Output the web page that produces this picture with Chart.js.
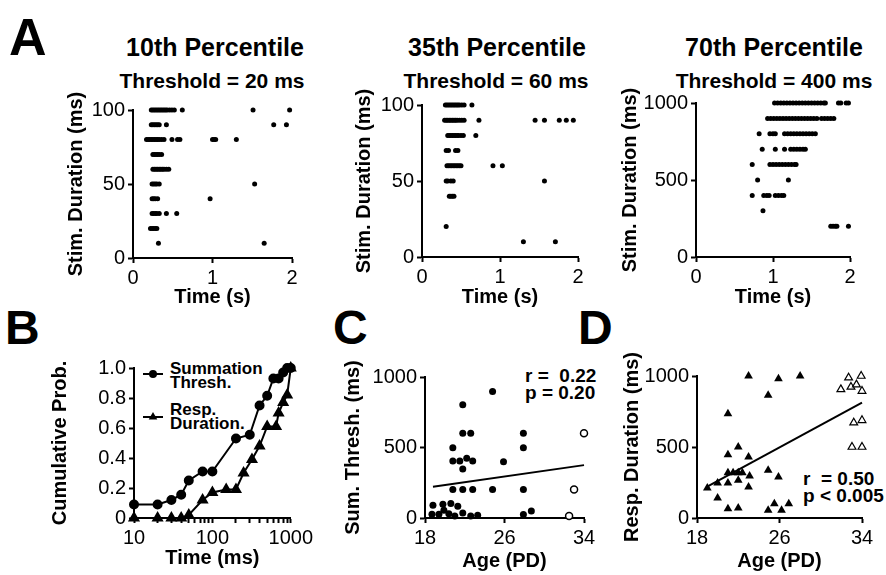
<!DOCTYPE html>
<html lang="en">
<head>
<meta charset="UTF-8">
<title>Summation threshold</title>
<script src="https://cdn.jsdelivr.net/npm/chart.js"></script>
<style>
  body { margin: 0; background: #fff; }
  #fig { position: relative; width: 886px; height: 575px; overflow: hidden;
         font-family: 'Liberation Sans', Arial, sans-serif; color: #000; }
  #fig canvas, #fig svg { position: absolute; }
  .txt { position: absolute; font-weight: bold; line-height: 1; white-space: pre; }
  .letter { font-size: 48px; }
  .ttl { font-size: 25px; transform: translateX(-50%); }
  .sub { font-size: 21px; transform: translateX(-50%); }
  .stat { font-size: 19px; }
  .leg { font-size: 17px; line-height: 14px; }
</style>
</head>
<body>
<div id="fig">
  <!-- panel letters -->
  <div class="txt letter" style="left:9px;top:11px;font-size:52px">A</div>
  <div class="txt letter" style="left:5px;top:304px">B</div>
  <div class="txt letter" style="left:333px;top:304px">C</div>
  <div class="txt letter" style="left:578px;top:304px">D</div>

  <!-- A titles -->
  <div class="txt ttl" style="left:215px;top:35px">10th Percentile</div>
  <div class="txt sub" style="left:212px;top:70px">Threshold = 20 ms</div>
  <div class="txt ttl" style="left:497px;top:35px">35th Percentile</div>
  <div class="txt sub" style="left:496px;top:70px">Threshold = 60 ms</div>
  <div class="txt ttl" style="left:774px;top:35px">70th Percentile</div>
  <div class="txt sub" style="left:774px;top:70px">Threshold = 400 ms</div>

  <!-- B legend -->
  <svg style="left:140px;top:365px" width="28" height="60">
    <line x1="3" y1="9" x2="23" y2="9" stroke="#000" stroke-width="2"/>
    <circle cx="13" cy="9" r="4" fill="#000"/>
    <line x1="3" y1="52" x2="23" y2="52" stroke="#000" stroke-width="2"/>
    <polygon points="13,47 17.3,54.5 8.7,54.5" fill="#000"/>
  </svg>
  <div class="txt leg" style="left:170px;top:362px">Summation
Thresh.</div>
  <div class="txt leg" style="left:170px;top:403px">Resp.
Duration.</div>

  <!-- stats -->
  <div class="txt stat" style="left:525px;top:366px">r =  0.22</div>
  <div class="txt stat" style="left:525px;top:383px">p = 0.20</div>
  <div class="txt stat" style="left:803px;top:469px">r  = 0.50</div>
  <div class="txt stat" style="left:803px;top:486px">p &lt; 0.005</div>
</div>

<script>
  // ---- A: raster, response times (s) per stimulus duration row ----
  const levelsA12 = [100, 90, 80, 70, 60, 50, 40, 30, 20, 10];
  const levelsA3 = [1000, 900, 800, 700, 600, 500, 400, 300, 200];

  const timesA1 = [
    [0.23, 0.25, 0.27, 0.29, 0.31, 0.33, 0.35, 0.37, 0.39, 0.41, 0.43, 0.46, 0.49, 0.52, 0.62, 1.51, 1.97],
    [0.23, 0.25, 0.27, 0.29, 0.31, 0.33, 0.42, 1.77, 1.93],
    [0.17, 0.19, 0.21, 0.23, 0.25, 0.27, 0.29, 0.31, 0.33, 0.36, 0.39, 0.49, 0.56, 0.59, 1.00, 1.02, 1.04, 1.30],
    [0.25, 0.27, 0.29, 0.31, 0.33, 0.36],
    [0.25, 0.27, 0.29, 0.31, 0.33, 0.35, 0.37, 0.39, 0.42, 0.45],
    [0.24, 0.26, 0.28, 0.30, 0.33, 1.53],
    [0.24, 0.26, 0.28, 0.31, 0.97],
    [0.24, 0.26, 0.28, 0.30, 0.33, 0.42, 0.55],
    [0.22, 0.24, 0.26, 0.28, 0.30],
    [0.32, 1.65]
  ];
  const timesA2 = [
    [0.30, 0.32, 0.34, 0.36, 0.38, 0.40, 0.42, 0.44, 0.46, 0.48, 0.51, 0.54, 0.64],
    [0.29, 0.31, 0.33, 0.35, 0.37, 0.39, 0.41, 0.43, 0.45, 0.48, 0.51, 0.54, 0.73, 1.45, 1.57, 1.76, 1.85, 1.94],
    [0.33, 0.35, 0.37, 0.39, 0.41, 0.43, 0.45, 0.47, 0.50, 0.53, 0.69],
    [0.31, 0.34, 0.43, 0.46],
    [0.32, 0.34, 0.36, 0.38, 0.40, 0.42, 0.44, 0.46, 0.48, 0.50, 0.91, 1.03],
    [0.31, 0.33, 0.37, 0.40, 1.57],
    [0.35, 0.37, 0.39, 0.41],
    [],
    [0.31],
    [1.30, 1.71]
  ];
  const timesA3 = [
    [1.02, 1.06, 1.10, 1.14, 1.18, 1.22, 1.26, 1.30, 1.34, 1.38, 1.42, 1.46, 1.50, 1.54, 1.58, 1.62, 1.66, 1.68, 1.85, 1.88, 1.95, 1.98],
    [0.93, 0.97, 1.01, 1.05, 1.09, 1.13, 1.17, 1.21, 1.25, 1.29, 1.33, 1.37, 1.41, 1.45, 1.49, 1.53, 1.57, 1.63, 1.67, 1.71, 1.75, 1.79],
    [0.82, 0.96, 1.00, 1.03, 1.15, 1.19, 1.23, 1.27, 1.31, 1.35, 1.39, 1.43, 1.47, 1.51, 1.55],
    [0.86, 1.03, 1.15, 1.23, 1.27, 1.31, 1.35, 1.39, 1.42],
    [0.73, 0.96, 1.00, 1.04, 1.08, 1.12, 1.16, 1.20, 1.24, 1.28, 1.30],
    [0.80, 1.20],
    [0.73, 0.88, 0.92, 0.95, 1.03, 1.07, 1.11, 1.14],
    [0.87],
    [1.75, 1.78, 1.81, 1.83, 1.98]
  ];

  // ---- B: cumulative probability ----
  const bSumTimes = [10, 20, 30, 40, 50, 75, 100, 200, 300, 400, 500, 600, 700, 800, 900, 1000];
  const bSumProb = [0.09, 0.09, 0.12, 0.155, 0.25, 0.31, 0.31, 0.53, 0.555, 0.75, 0.815, 0.93, 0.93, 0.97, 1.0, 1.0];
  const bRespTimes = [10, 20, 30, 40, 50, 75, 100, 150, 200, 250, 320, 400, 500, 650, 700, 800, 900, 1000];
  const bRespProb = [0, 0, 0, 0, 0.02, 0.12, 0.17, 0.19, 0.19, 0.30, 0.39, 0.48, 0.61, 0.61, 0.70, 0.77, 0.82, 1.0];

  // ---- C: summation threshold vs age ----
  const cAge = [18.8, 19.8, 20.6, 21.3, 18.7, 19.4, 19.9, 20.4, 21.0, 21.8, 22.6, 23.3, 27.9, 28.7,
                24.8, 21.8, 21.8, 22.6, 27.9, 20.8, 27.9, 20.8, 21.5, 22.2, 22.8, 21.8, 25.9,
                20.8, 21.8, 22.8, 24.8, 27.9];
  const cThresh = [90, 97, 102, 83, 26, 26, 55, 31, 14, 36, 14, 19, 24, 50,
                   898, 803, 601, 601, 601, 499, 499, 404, 404, 423, 404, 347, 399,
                   202, 202, 202, 202, 202];
  const cAgeOpen = [34.0, 33.0, 32.5];
  const cThreshOpen = [601, 202, 14];
  const cFitAge = [18.8, 34];
  const cFitVal = [222, 375];

  // ---- D: response duration vs age ----
  const dAge = [19.0, 20.0, 20.0, 21.0, 21.0, 21.0, 21.0, 21.0, 21.5, 22.0, 22.0, 22.0, 22.0, 22.4,
                23.0, 23.0, 23.1, 23.0, 24.9, 24.9, 24.9, 25.5, 25.9, 25.9, 26.2, 26.9, 28.0];
  const dDur = [211, 246, 141, 735, 446, 319, 246, 66, 319, 500, 319, 265, 70, 319,
                1000, 430, 296, 218, 864, 336, 54, 100, 981, 289, 54, 100, 1000];
  const dAgeOpen = [31.95, 32.7, 32.93, 33.46, 33.92, 34.0, 33.2, 34.0, 33.03, 34.0];
  const dDurOpen = [906, 988, 923, 939, 1000, 894, 671, 688, 500, 500];
  const dFitAge = [18.9, 34];
  const dFitVal = [218, 812];

  // ---- tick values ----
  const ticksTimeS = [0, 1, 2];
  const ticksDur100 = [0, 50, 100];
  const ticksDur1000 = [0, 500, 1000];
  const ticksLogMs = [10, 20, 30, 40, 50, 60, 70, 80, 90, 100, 200, 300, 400, 500, 600, 700, 800, 900, 1000];
  const labelsLogMs = [10, 100, 1000];
  const ticksProb = [0, 0.2, 0.4, 0.6, 0.8, 1.0];
  const ticksAge = [18, 26, 34];

  Chart.defaults.font.family = "'Liberation Sans', Arial, sans-serif";
  Chart.defaults.color = '#000';

  function rows(times, levels) {
    return times.flatMap((row, i) => row.map(t => ({ x: t, y: levels[i] })));
  }
  function pairs(xs, ys) {
    return xs.map((x, i) => ({ x: x, y: ys[i] }));
  }

  function axis(type, min, max, ticks, title, fmt) {
    return {
      type: type, min: min, max: max,
      afterBuildTicks: s => { s.ticks = ticks.map(v => ({ value: v })); },
      border: { color: '#000', width: 2 },
      grid: { drawOnChartArea: false, drawTicks: true, tickLength: 5, color: '#000', tickColor: '#000', tickWidth: 2 },
      ticks: { font: { size: 20 }, color: '#000', padding: 3, maxRotation: 0, autoSkip: false,
               callback: fmt || (v => v) },
      title: { display: true, text: title, font: { size: 20, weight: 'bold' }, padding: 0, color: '#000' }
    };
  }

  // g: chart area edges and axis-title centres in page pixels
  function panel(g, datasets, xScale, yScale) {
    const padTop = 45, padRight = 24;
    const L = g.yTitle - 12, T = g.top - padTop, B = g.xTitle + 12, R = g.right + padRight;
    const cv = document.createElement('canvas');
    cv.width = R - L;
    cv.height = B - T;
    cv.style.left = L + 'px';
    cv.style.top = T + 'px';
    document.getElementById('fig').appendChild(cv);
    xScale.afterFit = s => { s.height = B - g.bottom; };
    yScale.afterFit = s => { s.width = g.left - L; };
    new Chart(cv, {
      type: 'scatter',
      data: { datasets: datasets },
      options: {
        responsive: false, animation: false, devicePixelRatio: 1,
        layout: { padding: { top: padTop, right: padRight, left: 0, bottom: 0 } },
        plugins: { legend: { display: false }, tooltip: { enabled: false } },
        scales: { x: xScale, y: yScale }
      }
    });
  }

  const dots = pts => ({ data: pts, pointRadius: 2.5, pointHoverRadius: 2.5, backgroundColor: '#000', borderWidth: 0, clip: false });

  // A1-A3
  panel({ left: 133, right: 292, top: 110, bottom: 258, yTitle: 76, xTitle: 297 },
    [dots(rows(timesA1, levelsA12))],
    axis('linear', 0, 2, ticksTimeS, 'Time (s)'),
    axis('linear', 0, 100, ticksDur100, 'Stim. Duration (ms)'));
  panel({ left: 422, right: 578, top: 105, bottom: 257, yTitle: 364, xTitle: 297 },
    [dots(rows(timesA2, levelsA12))],
    axis('linear', 0, 2, ticksTimeS, 'Time (s)'),
    axis('linear', 0, 100, ticksDur100, 'Stim. Duration (ms)'));
  panel({ left: 696, right: 850, top: 103, bottom: 257, yTitle: 630, xTitle: 297 },
    [dots(rows(timesA3, levelsA3))],
    axis('linear', 0, 2, ticksTimeS, 'Time (s)'),
    axis('linear', 0, 1000, ticksDur1000, 'Stim. Duration (ms)'));

  // B
  panel({ left: 134, right: 292, top: 368, bottom: 518, yTitle: 60, xTitle: 558 },
    [
      { data: pairs(bSumTimes, bSumProb), showLine: true, borderColor: '#000', borderWidth: 2,
        pointStyle: 'circle', pointRadius: 4, backgroundColor: '#000', clip: false },
      { data: pairs(bRespTimes, bRespProb), showLine: true, borderColor: '#000', borderWidth: 2,
        pointStyle: 'triangle', pointRadius: 5, backgroundColor: '#000', clip: false }
    ],
    axis('logarithmic', 10, 1000, ticksLogMs, 'Time (ms)', v => labelsLogMs.includes(v) ? v : ''),
    axis('linear', 0, 1, ticksProb, 'Cumulative Prob.', v => v === 0 ? '0' : v.toFixed(1)));

  // C
  panel({ left: 425, right: 584, top: 377, bottom: 518, yTitle: 353, xTitle: 561 },
    [
      { data: pairs(cAge, cThresh), pointRadius: 3.5, backgroundColor: '#000', borderWidth: 0, clip: false },
      { data: pairs(cAgeOpen, cThreshOpen), pointRadius: 3.5, backgroundColor: '#fff', borderColor: '#000', borderWidth: 1.5, clip: false },
      { data: pairs(cFitAge, cFitVal), showLine: true, pointRadius: 0, borderColor: '#000', borderWidth: 2, clip: false }
    ],
    axis('linear', 18, 34, ticksAge, 'Age (PD)'),
    axis('linear', 0, 1000, ticksDur1000, 'Sum. Thresh. (ms)'));

  // D
  panel({ left: 697, right: 862, top: 376, bottom: 518, yTitle: 632, xTitle: 561 },
    [
      { data: pairs(dAge, dDur), pointStyle: 'triangle', pointRadius: 5, backgroundColor: '#000', borderWidth: 0, clip: false },
      { data: pairs(dAgeOpen, dDurOpen), pointStyle: 'triangle', pointRadius: 4.5, backgroundColor: '#fff', borderColor: '#000', borderWidth: 1.2, clip: false },
      { data: pairs(dFitAge, dFitVal), showLine: true, pointRadius: 0, borderColor: '#000', borderWidth: 2, clip: false }
    ],
    axis('linear', 18, 34, ticksAge, 'Age (PD)'),
    axis('linear', 0, 1000, ticksDur1000, 'Resp. Duration (ms)'));
</script>
</body>
</html>
